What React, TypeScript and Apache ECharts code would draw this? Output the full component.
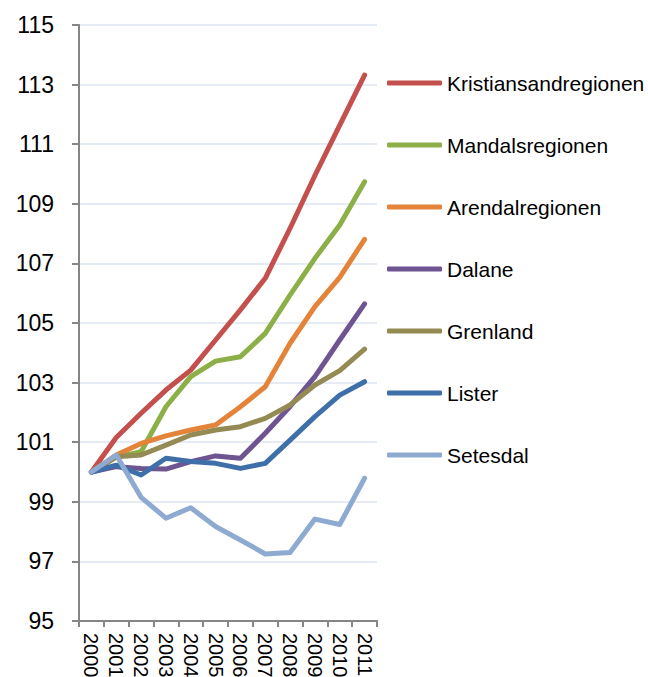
import React, { useEffect, useRef } from "react";
import * as echarts from "echarts";

const years = ["2000", "2001", "2002", "2003", "2004", "2005", "2006", "2007", "2008", "2009", "2010", "2011"];

const kristiansand = [100, 101.16, 101.97, 102.75, 103.42, 104.43, 105.44, 106.5, 108.18, 109.95, 111.64, 113.32];
const mandal = [100, 100.5, 100.68, 102.19, 103.2, 103.72, 103.87, 104.65, 105.94, 107.17, 108.29, 109.74];
const arendal = [100, 100.57, 100.96, 101.21, 101.41, 101.58, 102.19, 102.86, 104.32, 105.55, 106.53, 107.81];
const dalane = [100, 100.18, 100.12, 100.1, 100.35, 100.54, 100.46, 101.3, 102.2, 103.2, 104.43, 105.64];
const grenland = [100, 100.51, 100.57, 100.9, 101.24, 101.41, 101.52, 101.8, 102.25, 102.92, 103.4, 104.12];
const lister = [100, 100.23, 99.9, 100.46, 100.35, 100.29, 100.12, 100.29, 101.07, 101.86, 102.58, 103.03];
const setesdal = [100, 100.57, 99.15, 98.45, 98.8, 98.17, 97.72, 97.25, 97.3, 98.42, 98.24, 99.79];

const seriesNames = ["Kristiansandregionen", "Mandalsregionen", "Arendalregionen", "Dalane", "Grenland", "Lister", "Setesdal"];
const seriesData = [kristiansand, mandal, arendal, dalane, grenland, lister, setesdal];
const colors = ["#C3504D", "#8CAF47", "#E3843A", "#6E5491", "#948A54", "#3E6FA9", "#8FAAD1"];

const FONT = "'Liberation Sans', Arial, sans-serif";

export default function App() {
  const ref = useRef<HTMLDivElement>(null);
  useEffect(() => {
    document.body.style.margin = "0";
    if (!ref.current) return;
    const chart = echarts.init(ref.current, null, { renderer: "svg" });
    chart.setOption({
      animation: false,
      color: colors,
      textStyle: { fontFamily: FONT },
      grid: {
        left: 79,
        right: 271,
        top: 25,
        bottom: 56,
        containLabel: false,
        outerBoundsMode: "none",
      },
      legend: {
        orient: "vertical",
        left: 387,
        top: 72,
        padding: 0,
        icon: "roundRect",
        itemWidth: 55,
        itemHeight: 5,
        itemGap: 40,
        textStyle: { fontSize: 21, lineHeight: 22, color: "#000", fontFamily: FONT },
        data: seriesNames,
      },
      xAxis: {
        type: "category",
        data: years,
        boundaryGap: true,
        axisLine: { lineStyle: { color: "#868686", width: 2 } },
        axisTick: { show: true, length: 6, alignWithLabel: false, lineStyle: { color: "#868686", width: 2 } },
        axisLabel: {
          rotate: -90,
          interval: 0,
          margin: 12,
          fontSize: 20,
          color: "#000",
          fontFamily: FONT,
        },
        splitLine: { show: false },
      },
      yAxis: {
        type: "value",
        min: 95,
        max: 115,
        interval: 2,
        axisLine: { show: true, lineStyle: { color: "#868686", width: 2 } },
        axisTick: { show: true, length: 7, lineStyle: { color: "#868686", width: 2 } },
        axisLabel: { fontSize: 23, color: "#000", margin: 25, fontFamily: FONT },
        splitLine: { show: true, lineStyle: { color: "#DCE6F2", width: 1.5 } },
      },
      series: seriesNames.map((name, i) => ({
        name,
        type: "line",
        data: seriesData[i],
        symbol: "none",
        smooth: false,
        lineStyle: { width: 5, color: colors[i], cap: "round", join: "round" },
        itemStyle: { color: colors[i] },
      })),
    });
    return () => chart.dispose();
  }, []);
  return <div ref={ref} style={{ width: 648, height: 677 }} />;
}
